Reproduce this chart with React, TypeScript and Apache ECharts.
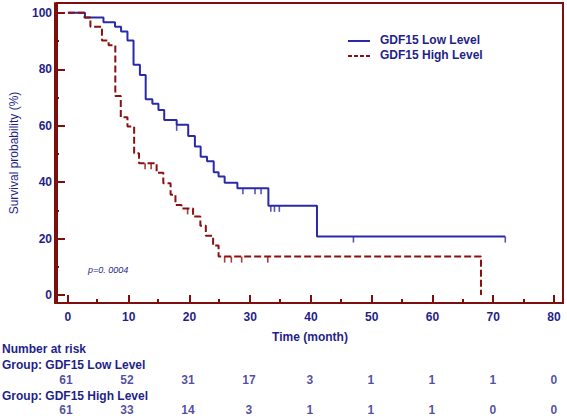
import React, { useEffect, useRef } from "react";
import * as echarts from "echarts";

const lowCurve: [number, number][] = [
  [0, 100], [2.8, 98.4], [5.85, 96.7], [7.75, 95.1], [8.75, 93.4], [9.8, 90.2],
  [10.8, 81.6], [11.85, 78.0], [12.8, 69.4], [13.9, 67.8], [14.9, 65.6], [15.85, 62.0],
  [17.9, 60.3], [19.8, 56.4], [20.9, 52.6], [21.85, 49.0], [22.9, 47.4], [24.0, 43.5],
  [24.8, 42.0], [25.8, 39.8], [27.9, 37.8], [33.0, 31.6], [41.0, 20.7], [72, 20.7],
];
const lowCensored: [number, number][] = [
  [17.9, 60.3], [28.8, 37.8], [30.8, 37.8], [31.8, 37.8], [33.4, 31.6], [34.0, 31.6],
  [34.8, 31.6], [47.0, 20.7], [72, 20.7],
];
const highCurve: [number, number][] = [
  [0, 100], [2.7, 98.4], [3.7, 95.1], [5.6, 90.2], [6.7, 88.5], [7.8, 70.5], [8.7, 63.0],
  [9.8, 59.7], [10.9, 50.2], [11.7, 46.7], [14.6, 43.3], [15.7, 39.6], [16.9, 35.5],
  [17.7, 31.9], [18.7, 30.7], [20.6, 27.8], [21.8, 24.5], [22.7, 21.0], [23.9, 17.5],
  [24.8, 13.6], [68, 0],
];
const highCensored: [number, number][] = [
  [12.7, 46.7], [13.7, 46.7], [19.7, 30.7], [25.8, 13.6], [26.9, 13.6], [28.6, 13.6], [32.9, 13.6],
];
const riskTimes = [0, 10, 20, 30, 40, 50, 60, 70, 80];
const riskLow = [61, 52, 31, 17, 3, 1, 1, 1, 0];
const riskHigh = [61, 33, 14, 3, 1, 1, 1, 0, 0];
const xMajor = [0, 10, 20, 30, 40, 50, 60, 70, 80];
const xMinor = [5, 15, 25, 35, 45, 55, 65, 75];
const yMajor = [0, 20, 40, 60, 80, 100];
const yMinor = [10, 30, 50, 70, 90];

const AXIS = "#7d0f0f";
const NAVY = "#1f1f8a";
const BLUE = "#2a2aa8";
const RED = "#8b1010";
const FONT = "'Liberation Sans', Arial, sans-serif";

export default function App() {
  const ref = useRef<HTMLDivElement>(null);
  useEffect(() => {
    if (!ref.current) return;
    const chart = echarts.init(ref.current, null, { renderer: "svg" });
    const xMin = -1.8, xMax = 81.5, yMin = -2.84, yMax = 103.5;
    const lbl = { color: NAVY, fontWeight: "bold" as const, fontSize: 12, fontFamily: FONT };
    const axLine = { show: true, onZero: false, lineStyle: { color: AXIS, width: 2 } };
    chart.setOption({
      animation: false,
      backgroundColor: "#ffffff",
      grid: [
        { left: 55, right: 4, top: 3, bottom: 113, show: true, borderColor: AXIS, borderWidth: 2, backgroundColor: "transparent" },
        { left: 55, right: 4, top: 380, height: 30 },
        { left: 55, right: 4, top: 3, bottom: 113 },
      ],
      xAxis: [
        {
          gridIndex: 0, type: "value", min: xMin, max: xMax, position: "bottom",
          axisLine: axLine,
          axisTick: { show: true, inside: true, length: 8, customValues: xMajor, lineStyle: { color: AXIS, width: 2 } },
          axisLabel: { ...lbl, margin: 8, customValues: xMajor },
          splitLine: { show: false },
          name: "Time (month)", nameLocation: "middle", nameGap: 28,
          nameTextStyle: { ...lbl },
        },
        { gridIndex: 1, type: "value", min: xMin, max: xMax, show: false },
        {
          gridIndex: 2, type: "value", min: xMin, max: xMax, position: "bottom",
          axisLine: axLine,
          axisTick: { show: true, inside: true, length: 4, customValues: xMinor, lineStyle: { color: AXIS, width: 2 } },
          axisLabel: { show: false, customValues: xMinor },
          splitLine: { show: false },
        },
      ],
      yAxis: [
        {
          gridIndex: 0, type: "value", min: yMin, max: yMax, position: "left",
          axisLine: axLine,
          axisTick: { show: true, inside: true, length: 8, customValues: yMajor, lineStyle: { color: AXIS, width: 2 } },
          axisLabel: { ...lbl, margin: 5, customValues: yMajor },
          splitLine: { show: false },
          name: "Survival probability (%)", nameLocation: "middle", nameGap: 37,
          nameTextStyle: { color: NAVY, fontSize: 12, fontFamily: FONT },
        },
        { gridIndex: 1, type: "value", min: 0, max: 1, inverse: true, show: false },
        {
          gridIndex: 2, type: "value", min: yMin, max: yMax, position: "left",
          axisLine: axLine,
          axisTick: { show: true, inside: true, length: 4, customValues: yMinor, lineStyle: { color: AXIS, width: 2 } },
          axisLabel: { show: false, customValues: yMinor },
          splitLine: { show: false },
        },
      ],
      series: [
        {
          type: "line", name: "GDF15 Low Level", xAxisIndex: 0, yAxisIndex: 0, step: "end",
          data: lowCurve, symbol: "none", lineStyle: { color: BLUE, width: 2 }, z: 3,
        },
        {
          type: "line", name: "GDF15 High Level", xAxisIndex: 0, yAxisIndex: 0, step: "end",
          data: highCurve, symbol: "none", lineStyle: { color: RED, width: 2, type: [7, 3] }, z: 3,
        },
        {
          type: "scatter", xAxisIndex: 0, yAxisIndex: 0, data: lowCensored, symbol: "rect",
          symbolSize: [1.6, 6], symbolOffset: [0, 3], itemStyle: { color: BLUE }, z: 4,
        },
        {
          type: "scatter", xAxisIndex: 0, yAxisIndex: 0, data: highCensored, symbol: "rect",
          symbolSize: [1.6, 6], symbolOffset: [0, 3], itemStyle: { color: RED }, z: 4,
        },
        {
          type: "scatter", xAxisIndex: 1, yAxisIndex: 1,
          data: [
            ...riskTimes.map((t, i) => [t, 0, riskLow[i]]),
            ...riskTimes.map((t, i) => [t, 1, riskHigh[i]]),
          ],
          symbolSize: 1, itemStyle: { color: "transparent" },
          label: {
            show: true, position: "inside", ...lbl,
            formatter: (p: any) => String(p.value[2]),
          },
        },
        { type: "scatter", xAxisIndex: 2, yAxisIndex: 2, data: [], silent: true },
      ],
      graphic: [
        { type: "line", shape: { x1: 348, y1: 41, x2: 370, y2: 41 }, style: { stroke: BLUE, lineWidth: 2 } },
        { type: "line", shape: { x1: 348, y1: 56, x2: 370, y2: 56 }, style: { stroke: RED, lineWidth: 2, lineDash: [4, 2] } },
        { type: "text", x: 380, y: 40, style: { text: "GDF15 Low Level", fill: NAVY, font: `bold 12px ${FONT}`, verticalAlign: "middle" } },
        { type: "text", x: 380, y: 55, style: { text: "GDF15 High Level", fill: NAVY, font: `bold 12px ${FONT}`, verticalAlign: "middle" } },
        { type: "text", x: 88, y: 270, style: { text: "p=0. 0004", fill: NAVY, font: `italic 9px ${FONT}`, verticalAlign: "middle" } },
        { type: "text", x: 2, y: 349, style: { text: "Number at risk", fill: NAVY, font: `bold 12px ${FONT}`, verticalAlign: "middle" } },
        { type: "text", x: 2, y: 365, style: { text: "Group: GDF15 Low Level", fill: NAVY, font: `bold 12px ${FONT}`, verticalAlign: "middle" } },
        { type: "text", x: 2, y: 396, style: { text: "Group: GDF15 High Level", fill: NAVY, font: `bold 12px ${FONT}`, verticalAlign: "middle" } },
      ],
    });
    return () => chart.dispose();
  }, []);
  return (
    <div
      ref={ref}
      style={{ position: "fixed", left: 0, top: 0, width: 567, height: 416, background: "#fff" }}
    />
  );
}
